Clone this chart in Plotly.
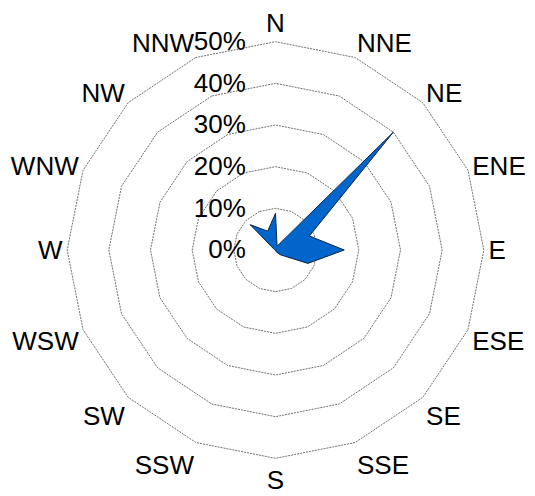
import plotly.graph_objects as go

directions = ['N', 'NNE', 'NE', 'ENE', 'E', 'ESE', 'SE', 'SSE',
              'S', 'SSW', 'SW', 'WSW', 'W', 'WNW', 'NW', 'NNW']
frequency = [8.8, 1.0, 40.0, 8.8, 16.5, 8.4, 1.6, 0.5,
             0.0, 0.0, 0.0, 0.0, 0.0, 0.3, 8.6, 4.9]
radial_ticks = [0, 10, 20, 30, 40, 50]
radial_labels = ['0%', '10%', '20%', '30%', '40%', '50%']

fig = go.Figure()

fig.add_trace(go.Scatterpolar(
    r=frequency + frequency[:1],
    theta=directions + directions[:1],
    mode='lines',
    fill='toself',
    fillcolor='#0066CC',
    line=dict(color='#10253F', width=1),
    showlegend=False,
))

fig.update_layout(
    width=535,
    height=496,
    margin=dict(l=55, r=55, t=29, b=41),
    paper_bgcolor='white',
    font=dict(family='Liberation Sans, Arial, sans-serif', size=26, color='black'),
    polar=dict(
        bgcolor='white',
        gridshape='linear',
        angularaxis=dict(
            direction='clockwise',
            rotation=90,
            categoryorder='array',
            categoryarray=directions,
            showgrid=False,
            showline=False,
            ticks='',
            tickfont=dict(size=26),
        ),
        radialaxis=dict(
            range=[0, 51],
            tickvals=radial_ticks,
            ticktext=radial_labels,
            angle=90,
            tickangle=90,
            side='counterclockwise',
            showline=False,
            ticks='outside',
            ticklen=20,
            tickcolor='rgba(0,0,0,0)',
            gridcolor='#707070',
            griddash='2px,1px',
            gridwidth=1,
            tickfont=dict(size=26),
        ),
    ),
)

fig.write_html("out.html")
